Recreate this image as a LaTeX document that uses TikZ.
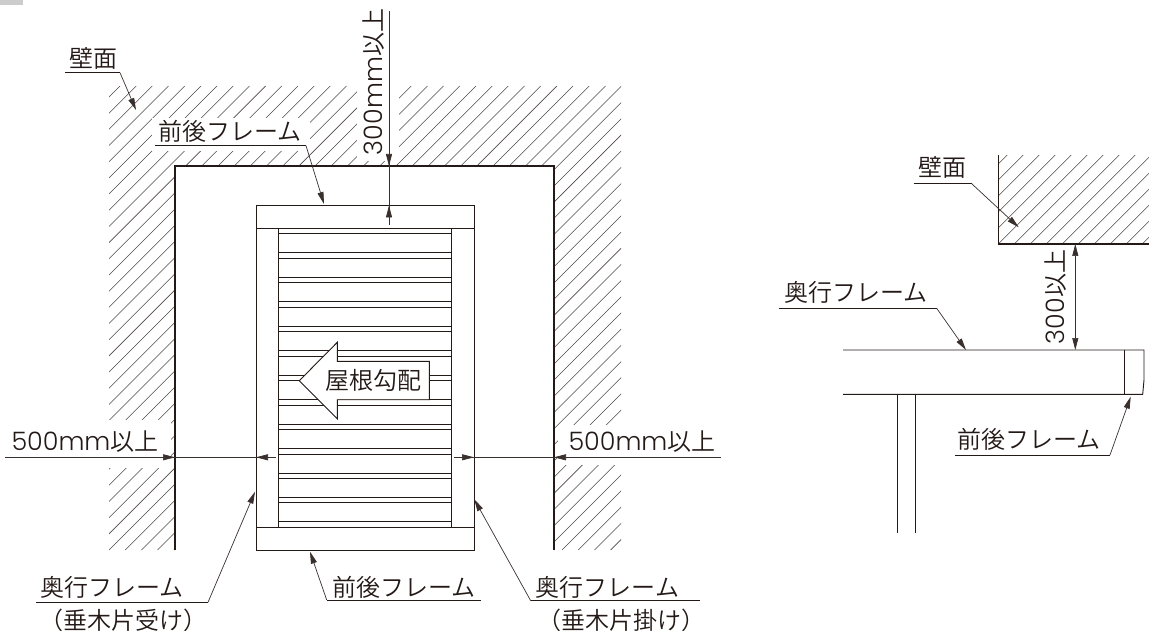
\documentclass[tikz,border=0pt]{standalone}
\usepackage{fontspec}
\setmainfont{Noto Sans CJK JP DemiLight}
\newfontfamily\latn{Poppins Light}
\usetikzlibrary{arrows.meta}
\definecolor{ink}{RGB}{35,25,22}
\tikzset{
  lbl/.style={inner sep=0pt,text=ink,font=\fontsize{24}{26}\selectfont},
  ltn/.style={inner sep=0pt,text=ink,font=\fontsize{24}{26}\selectfont},
  thin line/.style={draw=ink,line width=0.8pt},
  wall/.style={draw=ink,line width=1.5pt},
  hatchline/.style={draw=ink!80,line width=0.55pt},
  frameline/.style={draw=ink,line width=0.9pt},
  leader/.style={draw=ink!90,line width=0.7pt,-{Stealth[length=12pt,width=6pt,inset=0pt]}},
  gap/.style={fill=white,draw=none},
}
\newcommand{\Lt}[1]{{\latn\fontsize{25.4}{28}\selectfont #1}}
\begin{document}
\begin{tikzpicture}[x=1pt,y=-1pt]
\useasboundingbox (0,0) rectangle (1149,631);
\fill[black!20] (0,0) rectangle (23,5);

% ---------- left wall hatching
\begin{scope}
\clip (109,86) rectangle (621,550);
\foreach \k in {-10,...,70}{
  \pgfmathsetmacro{\c}{206+16.18*\k}
  \draw[hatchline] (\c-86+0,86) -- (\c-550,550);
}
\end{scope}
\fill[gap] (175,166) rectangle (554,551);
\fill[gap] (152,118) rectangle (310,151);
\fill[gap] (357,80) rectangle (399,161);
\fill[gap] (105,420) rectangle (171,468);
\fill[gap] (558,425) rectangle (625,465);
\draw[wall] (175,550) -- (175,166) -- (554,166) -- (554,550);

% ---------- frame
\draw[frameline] (256,205.5) rectangle (474,550);
\draw[frameline] (256,228.5) -- (474,228.5);
\draw[frameline] (256,527.3) -- (474,527.3);
\draw[frameline] (278.5,228.5) -- (278.5,527.3);
\draw[frameline] (451,228.5) -- (451,527.3);
\foreach \k in {0,...,12}{
  \pgfmathsetmacro{\ya}{228.5+24.45*\k}
  \pgfmathsetmacro{\yb}{\ya+5.4}
  \draw[frameline] (278.5,\ya) -- (451,\ya);
  \draw[frameline] (278.5,\yb) -- (451,\yb);
}

% ---------- block arrow
\draw[frameline,fill=white] (299.3,380.7) -- (337.3,342.3) -- (337.3,361.3) -- (429.3,361.3)
  -- (429.3,399.7) -- (337.3,399.7) -- (337.3,418.7) -- cycle;
\node[lbl] (slope) at (373,380.5) {屋根勾配};

% ---------- dimensions, left drawing
\coordinate (dvT) at (389,11);
\coordinate (dvA) at (389,166);
\coordinate (dvB) at (389,205.5);
\coordinate (dvE) at (389,225);
\draw[leader,-] (dvT) -- (dvE);
\draw[leader] (389,150) -- (dvA);
\draw[leader] (dvE) -- (dvB);
\node[ltn,rotate=90] (d300) at (373.5,82) {\Lt{300mm}以上};

\coordinate (hL0) at (5,457.3);
\coordinate (hL1) at (175,457.3);
\coordinate (hL2) at (256,457.3);
\coordinate (hL3) at (276,457.3);
\draw[leader,-] (hL0) -- (hL3);
\draw[leader] (158,457.3) -- (hL1);
\draw[leader] (hL3) -- (hL2);
\node[ltn] (d500a) at (85,441.5) {\Lt{500mm}以上};

\coordinate (hR0) at (454,457.3);
\coordinate (hR1) at (474,457.3);
\coordinate (hR2) at (554,457.3);
\coordinate (hR3) at (721,457.3);
\draw[leader,-] (hR0) -- (hR3);
\draw[leader] (hR0) -- (hR1);
\draw[leader] (572,457.3) -- (hR2);
\node[ltn] (d500b) at (642,441.5) {\Lt{500mm}以上};

% ---------- labels, left drawing
\node[lbl] (wallA) at (93,58) {壁面};
\coordinate (wa0) at (65,72.7); \coordinate (wa1) at (120,72.7); \coordinate (wa2) at (136,110);
\draw[thin line] (wa0) -- (wa1);
\draw[leader] (wa1) -- (wa2);

\node[lbl] (ffA) at (230,131) {前後フレーム};
\coordinate (fa0) at (155,145.7); \coordinate (fa1) at (306,145.7); \coordinate (fa2) at (324,204);
\draw[thin line] (fa0) -- (fa1);
\draw[leader] (fa1) -- (fa2);

\node[lbl] (okA) at (112,587) {奥行フレーム};
\node[lbl] (okAs) at (123,620) {（垂木片受け）};
\coordinate (oa0) at (36,602.3); \coordinate (oa1) at (208,602.3); \coordinate (oa2) at (255,491.7);
\draw[thin line] (oa0) -- (oa1);
\draw[leader] (oa1) -- (oa2);

\node[lbl] (ffB) at (404,587) {前後フレーム};
\coordinate (fb0) at (481,600); \coordinate (fb1) at (326.7,600); \coordinate (fb2) at (310,551.7);
\draw[thin line] (fb0) -- (fb1);
\draw[leader] (fb1) -- (fb2);

\node[lbl] (okB) at (607.5,587) {奥行フレーム};
\node[lbl] (okBs) at (621,620) {（垂木片掛け）};
\coordinate (ob0) at (700,600.7); \coordinate (ob1) at (530.7,600.7); \coordinate (ob2) at (474.3,499.3);
\draw[thin line] (ob0) -- (ob1);
\draw[leader] (ob1) -- (ob2);

% ---------- right drawing: wall
\begin{scope}
\clip (998.7,155) rectangle (1149,244);
\foreach \k in {-2,...,20}{
  \pgfmathsetmacro{\c}{1023.3+155+16*\k}
  \draw[hatchline] (\c-155,155) -- (\c-244,244);
}
\end{scope}
\draw[wall] (998.7,155) -- (998.7,244) -- (1149,244);

\node[lbl] (wallB) at (942.5,167) {壁面};
\coordinate (wb0) at (913.7,183.7); \coordinate (wb1) at (971.7,183.7); \coordinate (wb2) at (1018.7,227.3);
\draw[thin line] (wb0) -- (wb1);
\draw[leader] (wb1) -- (wb2);

% ---------- beam and post
\draw[frameline] (843,350) -- (1144,350) -- (1144,380) -- (1142.7,394.3) -- (843,394.3);
\draw[frameline] (1124.3,350) -- (1124.3,394.3);
\draw[frameline] (897,394.3) -- (897,533);
\draw[frameline] (915.3,394.3) -- (915.3,533);

\coordinate (dw) at (1075.3,244); \coordinate (db) at (1075.3,350);
\draw[leader,{Stealth[length=12pt,width=6pt,inset=0pt]}-{Stealth[length=12pt,width=6pt,inset=0pt]}] (dw) -- (db);
\node[ltn,rotate=90] (d300b) at (1055.7,297) {\Lt{300}以上};

\node[lbl] (okC) at (856,292) {奥行フレーム};
\coordinate (oc0) at (778.7,308.3); \coordinate (oc1) at (936.7,308.3); \coordinate (oc2) at (966,350);
\draw[thin line] (oc0) -- (oc1);
\draw[leader] (oc1) -- (oc2);

\node[lbl] (ffC) at (1029,439) {前後フレーム};
\coordinate (fc0) at (955,455); \coordinate (fc1) at (1110,455); \coordinate (fc2) at (1130.7,396.7);
\draw[thin line] (fc0) -- (fc1);
\draw[leader] (fc1) -- (fc2);
\end{tikzpicture}
\end{document}
